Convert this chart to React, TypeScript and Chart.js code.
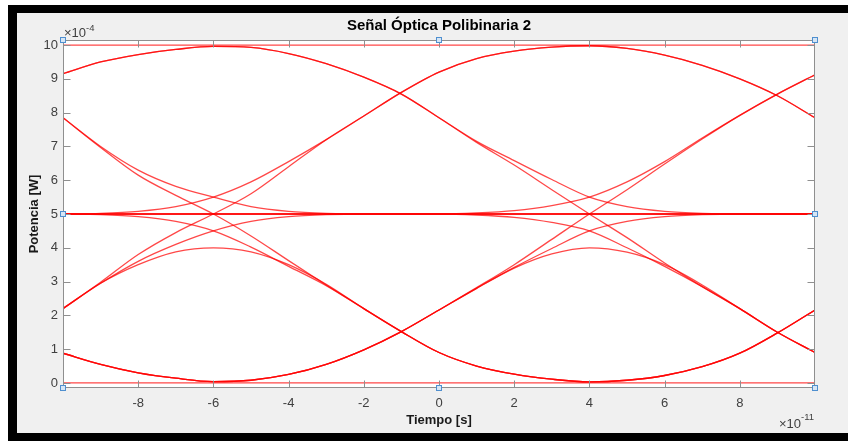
import React, { useEffect, useRef } from "react";
import { Chart, registerables } from "chart.js";

Chart.register(...registerables);

// ---------- text ----------
const TITLE = "Señal Óptica Polibinaria 2";
const X_LABEL = "Tiempo [s]";
const Y_LABEL = "Potencia [W]";
const Y_EXP = "-4";
const X_EXP = "-11";

// ---------- axes ----------
const X_VALUES = [-10, -9, -8, -7, -6, -5, -4, -3, -2, -1, 0, 1, 2, 3, 4, 5, 6, 7, 8, 9, 10];
const X_TICKS = [-8, -6, -4, -2, 0, 2, 4, 6, 8];
const Y_TICKS = [0, 1, 2, 3, 4, 5, 6, 7, 8, 9, 10];
const X_MIN = -10;
const X_MAX = 10;
const Y_MIN = -0.15;
const Y_MAX = 10.15;

// ---------- trace pieces (x 1e-11 s, y 1e-4 W) ----------
// arriving at first sample (x = -10 .. -6)
const IN_TOP_ARC = [9.15, 9.5, 9.72, 9.87, 9.96];
const IN_TOP_FLAT = [10, 10, 10, 10, 10];
const IN_D1 = [7.85, 7.0, 6.3, 5.82, 5.5];
const IN_D2 = [7.85, 6.97, 6.15, 5.55, 5.0];
const IN_U1 = [5.0, 5.02, 5.08, 5.22, 5.5];
const IN_MID_FLAT = [5, 5, 5, 5, 5];
const IN_B2 = [5.0, 4.98, 4.92, 4.78, 4.5];
const IN_B1A = [2.2, 2.95, 3.5, 3.88, 4.0];
const IN_B1B = [2.2, 2.95, 3.6, 4.1, 4.5];
const IN_B1C = [2.2, 2.98, 3.8, 4.45, 5.0];
const IN_BOT_ARC = [0.88, 0.55, 0.3, 0.14, 0.04];
const IN_BOT_FLAT = [0, 0, 0, 0, 0];

// between samples (x = -6 .. 4)
const MID_TOP_FLAT = [10, 10, 10, 10, 10, 10, 10, 10, 10, 10, 10];
const MID_D1 = [9.96, 9.93, 9.75, 9.45, 9.05, 8.55, 7.85, 7.15, 6.58, 6.02, 5.5];
const MID_D2 = [9.96, 9.93, 9.75, 9.45, 9.05, 8.55, 7.85, 7.12, 6.45, 5.72, 5.0];
const MID_D1_TAIL = [5.5, 5.22, 5.08, 5.02, 5.0, 5, 5, 5, 5, 5, 5];
const MID_U1 = [5.5, 5.95, 6.55, 7.2, 7.9, 8.6, 9.2, 9.6, 9.82, 9.94, 9.98];
const MID_U2 = [5.0, 5.6, 6.4, 7.2, 7.9, 8.6, 9.2, 9.6, 9.82, 9.94, 9.98];
const MID_FLAT = [5, 5, 5, 5, 5, 5, 5, 5, 5, 5, 5];
const MID_RISE_55 = [5, 5, 5, 5, 5, 5, 5.0, 5.03, 5.1, 5.25, 5.5];
const MID_FALL_45 = [5, 5, 5, 5, 5, 5, 5.0, 4.97, 4.9, 4.75, 4.5];
const MID_DESC_50 = [5.0, 4.35, 3.62, 2.9, 2.2, 1.52, 0.9, 0.5, 0.26, 0.11, 0.03];
const MID_DESC_45 = [4.5, 4.02, 3.45, 2.88, 2.2, 1.52, 0.9, 0.5, 0.26, 0.11, 0.03];
const MID_DESC_40 = [4.0, 3.88, 3.5, 2.92, 2.2, 1.52, 0.9, 0.5, 0.26, 0.11, 0.03];
const MID_B1B_TAIL = [4.5, 4.78, 4.92, 4.98, 5.0, 5, 5, 5, 5, 5, 5];
const MID_UP_40 = [0.04, 0.08, 0.25, 0.55, 0.98, 1.52, 2.16, 2.8, 3.4, 3.82, 4.0];
const MID_UP_45 = [0.04, 0.08, 0.25, 0.55, 0.98, 1.52, 2.16, 2.8, 3.42, 3.98, 4.5];
const MID_UP_50 = [0.04, 0.08, 0.25, 0.55, 0.98, 1.52, 2.16, 2.82, 3.5, 4.25, 5.0];
const MID_BOT_FLAT = [0, 0, 0, 0, 0, 0, 0, 0, 0, 0, 0];

// leaving second sample (x = 4 .. 10)
const OUT_TOP_FLAT = [10, 10, 10, 10, 10, 10, 10];
const OUT_TOP_ARC = [9.98, 9.9, 9.7, 9.4, 9.0, 8.5, 7.85];
const OUT_D1_TAIL = [5.5, 5.22, 5.08, 5.02, 5.0, 5.0, 5.0];
const OUT_U1 = [5.5, 5.95, 6.55, 7.25, 7.92, 8.55, 9.12];
const OUT_U2 = [5.0, 5.72, 6.48, 7.22, 7.92, 8.55, 9.12];
const OUT_MID_FLAT = [5, 5, 5, 5, 5, 5, 5];
const OUT_B1B_TAIL = [4.5, 4.78, 4.92, 4.98, 5.0, 5.0, 5.0];
const OUT_DESC_50 = [5.0, 4.3, 3.55, 2.85, 2.2, 1.5, 0.9];
const OUT_DESC_45 = [4.5, 4.0, 3.45, 2.85, 2.2, 1.5, 0.9];
const OUT_DESC_40 = [4.0, 3.87, 3.5, 2.9, 2.2, 1.5, 0.9];
const OUT_BOT_ARC = [0.03, 0.08, 0.22, 0.48, 0.88, 1.48, 2.16];
const OUT_BOT_FLAT = [0, 0, 0, 0, 0, 0, 0];

// which pieces join into one trace
const PATHS: number[][][] = [
  [IN_TOP_FLAT, MID_TOP_FLAT, OUT_TOP_FLAT],
  [IN_TOP_ARC, MID_D1, OUT_D1_TAIL],
  [IN_TOP_ARC, MID_D2, OUT_DESC_50],
  [IN_D1, MID_D1_TAIL, OUT_MID_FLAT],
  [IN_U1, MID_U1, OUT_TOP_ARC],
  [IN_D2, MID_DESC_50, OUT_BOT_ARC],
  [IN_B1C, MID_U2, OUT_TOP_ARC],
  [IN_MID_FLAT, MID_FLAT, OUT_MID_FLAT],
  [IN_MID_FLAT, MID_RISE_55, OUT_U1],
  [IN_MID_FLAT, MID_FALL_45, OUT_DESC_45],
  [IN_B2, MID_DESC_45, OUT_BOT_ARC],
  [IN_B1B, MID_B1B_TAIL, OUT_MID_FLAT],
  [IN_B1A, MID_DESC_40, OUT_BOT_ARC],
  [IN_BOT_ARC, MID_UP_40, OUT_DESC_40],
  [IN_BOT_ARC, MID_UP_45, OUT_B1B_TAIL],
  [IN_BOT_ARC, MID_UP_50, OUT_U2],
  [IN_BOT_FLAT, MID_BOT_FLAT, OUT_BOT_FLAT],
];

const FONT = "'Liberation Sans', Arial, Helvetica, sans-serif";

function joinPath(p: number[][]): number[] {
  return [...p[0], ...p[1].slice(1), ...p[2].slice(1)];
}

const framePlugin = {
  id: "matlabFrame",
  beforeDraw(chart: any) {
    const { ctx, chartArea: a } = chart;
    ctx.save();
    ctx.fillStyle = "#ffffff";
    ctx.fillRect(a.left, a.top, a.right - a.left, a.bottom - a.top);
    ctx.restore();
  },
  afterDraw(chart: any) {
    const { ctx, chartArea: a, scales } = chart;
    const xs = scales.x;
    const ys = scales.y;
    const L = Math.round(a.left) + 0.5;
    const R = Math.round(a.right) - 0.5;
    const T = Math.round(a.top) + 0.5;
    const B = Math.round(a.bottom) - 0.5;
    ctx.save();
    ctx.strokeStyle = "#8f8f8f";
    ctx.lineWidth = 1;
    ctx.beginPath();
    ctx.rect(L, T, R - L, B - T);
    const tl = 7;
    for (const v of X_TICKS) {
      const px = Math.round(xs.getPixelForValue(v)) + 0.5;
      ctx.moveTo(px, B);
      ctx.lineTo(px, B - tl);
      ctx.moveTo(px, T);
      ctx.lineTo(px, T + tl);
    }
    for (const v of Y_TICKS) {
      const py = Math.round(ys.getPixelForValue(v)) + 0.5;
      ctx.moveTo(L, py);
      ctx.lineTo(L + tl, py);
      ctx.moveTo(R, py);
      ctx.lineTo(R - tl, py);
    }
    ctx.stroke();

    // title
    const cx = (a.left + a.right) / 2;
    ctx.fillStyle = "#000000";
    ctx.textAlign = "center";
    ctx.textBaseline = "middle";
    ctx.font = `bold 15px ${FONT}`;
    ctx.fillText(TITLE, cx, 26);

    // axis titles
    ctx.fillStyle = "#1a1a1a";
    ctx.font = `bold 13px ${FONT}`;
    ctx.fillText(X_LABEL, cx, 420);
    ctx.save();
    ctx.translate(34, (a.top + a.bottom) / 2);
    ctx.rotate(-Math.PI / 2);
    ctx.fillText(Y_LABEL, 0, 0);
    ctx.restore();

    // exponents
    ctx.fillStyle = "#404040";
    ctx.textBaseline = "alphabetic";
    ctx.textAlign = "left";
    ctx.font = `13px ${FONT}`;
    const base = "\u00d710";
    ctx.fillText(base, 64, 37);
    const w1 = ctx.measureText(base).width;
    ctx.font = `9.5px ${FONT}`;
    ctx.fillText(Y_EXP, 64 + w1, 31);

    ctx.font = `9.5px ${FONT}`;
    const we = ctx.measureText(X_EXP).width;
    ctx.textAlign = "right";
    ctx.fillText(X_EXP, 814, 420);
    ctx.font = `13px ${FONT}`;
    ctx.fillText(base, 814 - we, 428);

    // selection handles
    const marks = [
      [a.left, a.top], [cx, a.top], [a.right, a.top],
      [a.left, (a.top + a.bottom) / 2], [a.right, (a.top + a.bottom) / 2],
      [a.left, a.bottom], [cx, a.bottom], [a.right, a.bottom],
    ];
    for (const [mx, my] of marks) {
      const x0 = Math.round(mx) - 2.5;
      const y0 = Math.round(my) - 2.5;
      ctx.fillStyle = "#d6e6f5";
      ctx.fillRect(x0, y0, 5, 5);
      ctx.strokeStyle = "#4f8fcf";
      ctx.strokeRect(x0, y0, 5, 5);
    }
    ctx.restore();
  },
};

function EyeChart() {
  const ref = useRef<HTMLCanvasElement | null>(null);
  useEffect(() => {
    if (!ref.current) return;
    const datasets = PATHS.map((p) => ({
      data: joinPath(p).map((y, i) => ({ x: X_VALUES[i], y })),
      borderColor: "rgba(255,0,0,0.72)",
      borderWidth: 1.3,
      pointRadius: 0,
      fill: false,
      cubicInterpolationMode: "monotone" as const,
    }));
    const chart = new Chart(ref.current, {
      type: "line",
      data: { datasets },
      options: {
        responsive: false,
        animation: false,
        devicePixelRatio: 1,
        layout: { padding: { left: 0, top: 40, right: 33, bottom: 0 } },
        plugins: {
          legend: { display: false },
          tooltip: { enabled: false },
          title: { display: false },
        },
        scales: {
          x: {
            type: "linear",
            min: X_MIN,
            max: X_MAX,
            grid: { display: false, drawTicks: false },
            border: { display: false },
            afterBuildTicks: (s: any) => {
              s.ticks = X_TICKS.map((v) => ({ value: v }));
            },
            afterFit: (s: any) => {
              s.height = 53;
            },
            ticks: {
              autoSkip: false,
              maxRotation: 0,
              padding: 8,
              color: "#404040",
              font: { family: FONT, size: 13 },
              callback: (v: any) => String(v),
            },
          },
          y: {
            type: "linear",
            min: Y_MIN,
            max: Y_MAX,
            grid: { display: false, drawTicks: false },
            border: { display: false },
            afterBuildTicks: (s: any) => {
              s.ticks = Y_TICKS.map((v) => ({ value: v }));
            },
            afterFit: (s: any) => {
              s.width = 63;
            },
            ticks: {
              autoSkip: false,
              padding: 5,
              color: "#404040",
              font: { family: FONT, size: 13 },
              callback: (v: any) => String(v),
            },
          },
        },
      },
      plugins: [framePlugin],
    });
    return () => chart.destroy();
  }, []);
  return (
    <canvas
      ref={ref}
      width={848}
      height={441}
      style={{ position: "absolute", left: 0, top: 0, width: 848, height: 441 }}
    />
  );
}

export default function App() {
  return (
    <div
      style={{
        position: "fixed",
        left: 0,
        top: 0,
        width: 848,
        height: 441,
        background: "#ffffff",
        overflow: "hidden",
      }}
    >
      <div style={{ position: "absolute", left: 8, top: 5, width: 840, height: 436, background: "#000000" }} />
      <div style={{ position: "absolute", left: 17, top: 13, width: 831, height: 420, background: "#f0f0f0" }} />
      <EyeChart />
    </div>
  );
}
